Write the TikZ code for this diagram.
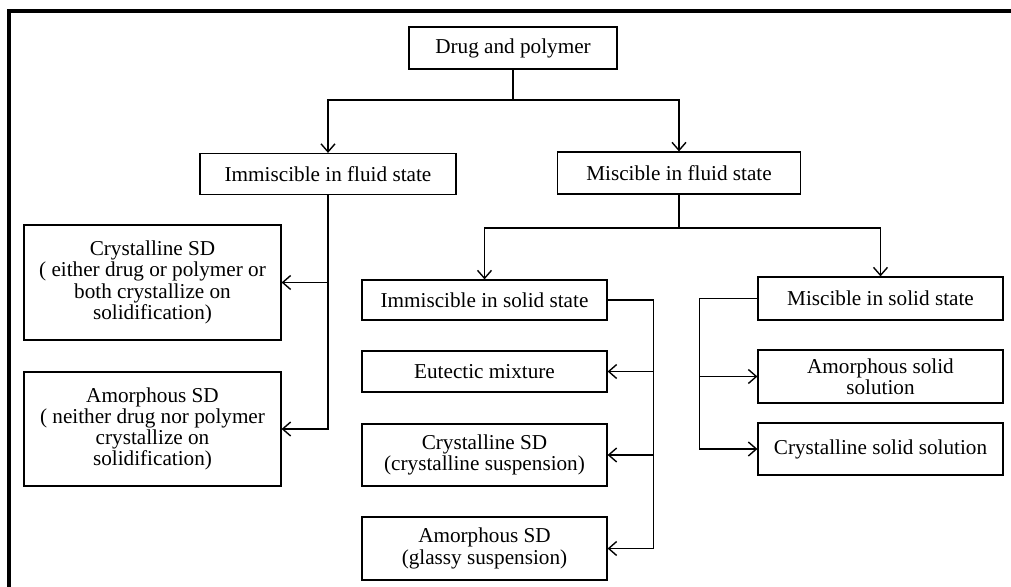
\documentclass[tikz,border=0pt]{standalone}
\usepackage{fontspec}
\setmainfont{Liberation Serif}
\usetikzlibrary{positioning, calc, arrows.meta}

\begin{document}
\begin{tikzpicture}[>={Straight Barb[length=4pt, width=7pt]}, x=0.5pt, y=-0.5pt,
	box/.style={draw, line width=0.6pt, align=center, inner sep=1pt, font=\fontsize{10.6}{10.6}\selectfont},
	link/.style={line width=0.7pt}]
	\useasboundingbox (0, 0) rectangle (1011, 587);
	\draw[line width=1.6pt] (9, 587) -- (9, 11) -- (1011, 11);
	% top level
	\node[box, minimum width=104pt, minimum height=21pt] (root) at (513, 48) {Drug and polymer};
	\node[box, minimum width=128pt, minimum height=20.5pt] (imf) at (328, 174) {Immiscible in fluid state};
	\node[box, minimum width=121.5pt, minimum height=21pt] (mf) at (679, 173) {Miscible in fluid state};
	% immiscible in fluid state
	\node[box, minimum width=128.5pt, minimum height=57.5pt] (crySD) at (152.5, 282.5) {Crystalline SD\\( either drug or polymer or\\both crystallize on\\solidification)};
	\node[box, minimum width=128.5pt, minimum height=57pt] (amoSD) at (152.5, 429) {Amorphous SD\\( neither drug nor polymer\\crystallize on\\solidification)};
	% miscible in fluid state
	\node[box, minimum width=122.5pt, minimum height=20pt] (ims) at (484.5, 300) {Immiscible in solid state};
	\node[box, minimum width=122.5pt, minimum height=20.5pt] (eut) at (484.5, 371.5) {Eutectic mixture};
	\node[box, minimum width=122.5pt, minimum height=31pt] (crysus) at (484.5, 455) {Crystalline SD\\(crystalline suspension)};
	\node[box, minimum width=122.5pt, minimum height=31.5pt] (glasus) at (484.5, 548.5) {Amorphous SD\\(glassy suspension)};
	\node[box, minimum width=122.5pt, minimum height=21.5pt] (mss) at (880.5, 298.5) {Miscible in solid state};
	\node[box, minimum width=122.5pt, minimum height=26.5pt] (amosol) at (880.5, 376.5) {Amorphous solid\\solution};
	\node[box, minimum width=122.5pt, minimum height=26pt] (crysol) at (880.5, 449) {Crystalline solid solution};
	% connectors
	\draw[link] (root.south) -- (root.south |- 0, 100) coordinate (j1);
	\draw[link, ->] (j1) -| (imf.north);
	\draw[link, ->] (j1) -| (mf.north);
	\draw[link, ->] (imf.south) |- (crySD.east);
	\draw[link, ->] (imf.south) |- (amoSD.east);
	\draw[link] (mf.south) -- (mf.south |- 0, 228) coordinate (j2);
	\draw[link, ->] (j2) -| (ims.north);
	\draw[link, ->] (j2) -| (mss.north);
	\draw[link] (ims.east) -- ++(46, 0) coordinate (k1);
	\draw[link, ->] (k1) |- (eut.east);
	\draw[link, ->] (k1) |- (crysus.east);
	\draw[link, ->] (k1) |- (glasus.east);
	\draw[link] (mss.west) -- ++(-58, 0) coordinate (k2);
	\draw[link, ->] (k2) |- (amosol.west);
	\draw[link, ->] (k2) |- (crysol.west);
\end{tikzpicture}
\end{document}
